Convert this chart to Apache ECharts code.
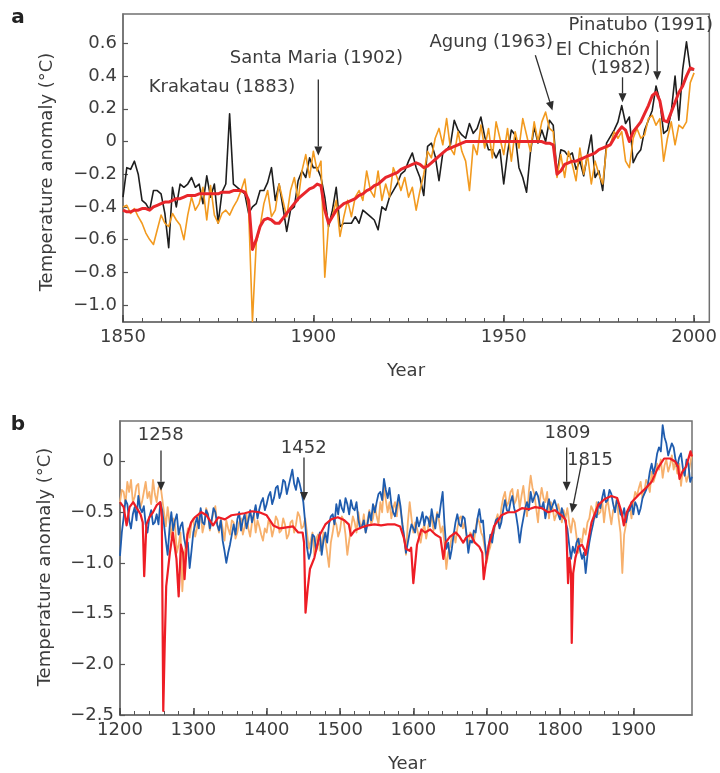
<!DOCTYPE html>
<html>
<head>
<meta charset="utf-8">
<script src="https://cdn.jsdelivr.net/npm/echarts@6/dist/echarts.min.js"></script>
<style>
  html, body { margin: 0; padding: 0; background: #fff; }
  #chart { width: 720px; height: 773px; }
</style>
</head>
<body>
<div id="chart"></div>
<script>
// ---------- Panel a: 1850–2000, annual anomalies (°C) ----------
const yearsA = [];
for (let y = 1850; y <= 2000; y++) yearsA.push(y);

const obsA = [
  -0.34, -0.16, -0.17, -0.12, -0.20, -0.36, -0.38, -0.42, -0.30, -0.30,
  -0.32, -0.44, -0.65, -0.28, -0.40, -0.26, -0.28, -0.26, -0.22, -0.28,
  -0.26, -0.38, -0.21, -0.34, -0.26, -0.50, -0.31, -0.26, 0.17, -0.26,
  -0.28, -0.30, -0.32, -0.44, -0.40, -0.38, -0.30, -0.30, -0.25, -0.16,
  -0.36, -0.26, -0.40, -0.55, -0.42, -0.40, -0.24, -0.18, -0.22, -0.10,
  -0.16, -0.16, -0.22, -0.34, -0.52, -0.42, -0.28, -0.52, -0.50, -0.50,
  -0.50, -0.46, -0.50, -0.42, -0.44, -0.46, -0.48, -0.54, -0.40, -0.42,
  -0.34, -0.30, -0.26, -0.20, -0.18, -0.12, -0.07, -0.16, -0.22, -0.33,
  -0.03, -0.01, -0.09, -0.24, -0.07, -0.05, -0.02, 0.13, 0.07, 0.04,
  0.02, 0.11, 0.05, 0.08, 0.15, 0.03, -0.05, -0.05, -0.10, -0.05,
  -0.26, -0.07, 0.07, 0.04, -0.16, -0.22, -0.31, -0.07, 0.09, -0.01,
  0.07, 0.00, 0.13, 0.10, -0.20, -0.05, -0.06, -0.09, -0.07, -0.17,
  -0.12, -0.21, -0.08, 0.04, -0.22, -0.18, -0.30, -0.01, 0.03, 0.07,
  0.12, 0.22, 0.11, 0.15, -0.13, -0.08, -0.05, 0.07, 0.13, 0.19,
  0.34, 0.25, 0.05, 0.07, 0.18, 0.40, 0.13, 0.44, 0.61, 0.44,
  0.44
];

const simA = [
  -0.40, -0.39, -0.44, -0.41, -0.46, -0.50, -0.56, -0.60, -0.63, -0.54,
  -0.45, -0.50, -0.52, -0.44, -0.48, -0.51, -0.60, -0.45, -0.34, -0.42,
  -0.38, -0.28, -0.48, -0.27, -0.45, -0.50, -0.44, -0.42, -0.45, -0.40,
  -0.36, -0.30, -0.23, -0.42, -1.10, -0.62, -0.52, -0.38, -0.30, -0.46,
  -0.42, -0.26, -0.36, -0.46, -0.30, -0.22, -0.36, -0.18, -0.08, -0.22,
  -0.06, -0.18, -0.12, -0.83, -0.50, -0.46, -0.36, -0.58, -0.46, -0.36,
  -0.46, -0.34, -0.30, -0.36, -0.18, -0.30, -0.34, -0.18, -0.36, -0.26,
  -0.34, -0.16, -0.22, -0.30, -0.22, -0.34, -0.28, -0.42, -0.30, -0.20,
  -0.06, -0.10, 0.02, 0.08, -0.02, 0.14, -0.04, -0.08, 0.06, -0.06,
  -0.12, -0.30, -0.02, -0.08, 0.10, -0.04, 0.08, -0.10, 0.12, 0.02,
  -0.08, 0.08, -0.12, 0.06, -0.04, 0.14, 0.04, -0.06, 0.12, 0.00,
  0.12, 0.18, 0.08, 0.06, -0.22, -0.08, -0.22, -0.06, -0.14, -0.24,
  -0.04, -0.20, -0.08, -0.26, -0.12, -0.20, -0.26, -0.04, -0.02, 0.06,
  0.02, 0.06, -0.12, -0.16, 0.02, 0.08, 0.02, 0.04, 0.14, 0.16,
  0.10, 0.14, -0.12, 0.02, 0.12, -0.02, 0.10, 0.08, 0.12, 0.36,
  0.42
];

const meanA = [
  -0.42, -0.43, -0.43, -0.42, -0.42, -0.41, -0.41, -0.42, -0.40, -0.39,
  -0.38, -0.37, -0.37, -0.36, -0.35, -0.35, -0.34, -0.33, -0.33, -0.33,
  -0.32, -0.32, -0.32, -0.32, -0.32, -0.32, -0.31, -0.31, -0.31, -0.30,
  -0.30, -0.30, -0.31, -0.36, -0.66, -0.60, -0.52, -0.48, -0.47, -0.48,
  -0.50, -0.50, -0.47, -0.44, -0.41, -0.38, -0.35, -0.33, -0.31, -0.29,
  -0.28, -0.26, -0.27, -0.42, -0.50, -0.46, -0.42, -0.40, -0.38, -0.37,
  -0.36, -0.35, -0.33, -0.32, -0.30, -0.29, -0.27, -0.26, -0.24, -0.22,
  -0.21, -0.20, -0.19, -0.17, -0.16, -0.15, -0.14, -0.13, -0.14, -0.16,
  -0.15, -0.13, -0.11, -0.09, -0.07, -0.05, -0.04, -0.03, -0.02, -0.01,
  0.00, 0.00, 0.00, 0.00, 0.00, 0.00, 0.00, 0.00, 0.00, 0.00,
  0.00, 0.00, 0.00, 0.00, 0.00, 0.00, 0.00, 0.00, 0.00, 0.00,
  0.00, -0.01, -0.01, -0.02, -0.20, -0.18, -0.14, -0.13, -0.12, -0.12,
  -0.11, -0.10, -0.09, -0.08, -0.07, -0.05, -0.04, -0.03, -0.02, 0.02,
  0.06, 0.09, 0.07, 0.00, 0.06, 0.09, 0.12, 0.17, 0.22, 0.28,
  0.30, 0.25, 0.13, 0.12, 0.18, 0.24, 0.30, 0.34, 0.40, 0.45,
  0.44
];

const yTicksA = [-1.0, -0.8, -0.6, -0.4, -0.2, 0, 0.2, 0.4, 0.6];
const xLabelsA = [1850, 1900, 1950, 2000];

// ---------- Panel b: 1200–1980, sampled every 2.5 years ----------
const yearsB = [];
for (let i = 0; i <= 312; i++) yearsB.push(1200 + i * 2.5);

// each row covers 25 years (10 samples)
const reconBlue = [
  -0.93, -0.70, -0.55, -0.38, -0.42, -0.58, -0.66, -0.52, -0.45, -0.58, // 1200
  -0.34, -0.46, -0.50, -0.44, -0.62, -0.70, -0.55, -0.48, -0.62, -0.60, // 1225
  -0.52, -0.62, -0.40, -0.48, -0.62, -0.78, -0.92, -0.66, -0.50, -0.68, // 1250
  -0.58, -0.52, -0.72, -0.64, -0.60, -0.76, -0.85, -0.80, -1.05, -0.88, // 1275
  -0.70, -0.62, -0.55, -0.66, -0.46, -0.60, -0.62, -0.48, -0.52, -0.66, // 1300
  -0.58, -0.46, -0.50, -0.62, -0.68, -0.58, -0.78, -0.88, -1.00, -0.90, // 1325
  -0.82, -0.72, -0.62, -0.72, -0.57, -0.50, -0.68, -0.58, -0.52, -0.66, // 1350
  -0.58, -0.48, -0.60, -0.52, -0.43, -0.56, -0.47, -0.40, -0.36, -0.48, // 1375
  -0.42, -0.34, -0.30, -0.42, -0.36, -0.26, -0.24, -0.36, -0.30, -0.18, // 1400
  -0.20, -0.32, -0.24, -0.16, -0.08, -0.22, -0.28, -0.16, -0.22, -0.30, // 1425
  -0.40, -0.60, -0.85, -0.96, -0.90, -0.72, -0.74, -0.88, -0.80, -0.70, // 1450
  -0.92, -0.78, -0.70, -0.80, -0.62, -0.54, -0.52, -0.62, -0.42, -0.52, // 1475
  -0.38, -0.46, -0.50, -0.36, -0.42, -0.52, -0.38, -0.46, -0.48, -0.40, // 1500
  -0.57, -0.66, -0.64, -0.58, -0.70, -0.62, -0.50, -0.58, -0.42, -0.50, // 1525
  -0.40, -0.32, -0.30, -0.38, -0.17, -0.28, -0.36, -0.26, -0.42, -0.50, // 1550
  -0.54, -0.44, -0.33, -0.44, -0.62, -0.74, -0.90, -0.80, -0.70, -0.62, // 1575
  -0.62, -0.70, -0.55, -0.64, -0.58, -0.50, -0.63, -0.54, -0.56, -0.64, // 1600
  -0.47, -0.58, -0.66, -0.52, -0.55, -0.42, -0.30, -0.62, -0.86, -0.80, // 1625
  -0.96, -0.86, -0.72, -0.60, -0.52, -0.62, -0.64, -0.54, -0.56, -0.72, // 1650
  -0.90, -0.78, -0.80, -0.68, -0.70, -0.56, -0.47, -0.60, -0.58, -0.80, // 1675
  -0.96, -0.84, -0.72, -0.80, -0.66, -0.58, -0.56, -0.66, -0.60, -0.48, // 1700
  -0.38, -0.48, -0.50, -0.40, -0.34, -0.46, -0.52, -0.64, -0.80, -0.66, // 1725
  -0.56, -0.46, -0.40, -0.48, -0.30, -0.40, -0.40, -0.30, -0.34, -0.44, // 1750
  -0.46, -0.40, -0.56, -0.46, -0.37, -0.48, -0.48, -0.38, -0.44, -0.52, // 1775
  -0.57, -0.46, -0.53, -0.60, -0.66, -0.82, -0.96, -0.84, -0.90, -0.80, // 1800
  -0.76, -0.88, -0.96, -0.90, -1.10, -0.92, -0.80, -0.70, -0.62, -0.52, // 1825
  -0.55, -0.40, -0.46, -0.36, -0.28, -0.40, -0.38, -0.28, -0.32, -0.42, // 1850
  -0.50, -0.38, -0.42, -0.52, -0.54, -0.46, -0.60, -0.50, -0.48, -0.40, // 1875
  -0.52, -0.40, -0.44, -0.52, -0.46, -0.36, -0.32, -0.28, -0.22, -0.10, // 1900
  -0.02, -0.12, -0.04, 0.08, 0.14, 0.10, 0.36, 0.24, 0.18, 0.06,       // 1925
  0.06, 0.18, 0.14, 0.02, -0.05, 0.04, 0.08, -0.06, -0.14, 0.02,       // 1950
  -0.02, -0.20, -0.15                                                   // 1975
];

const reconOrange = [
  -0.40, -0.28, -0.30, -0.42, -0.20, -0.30, -0.18, -0.40, -0.35, -0.24, // 1200
  -0.22, -0.46, -0.40, -0.30, -0.20, -0.36, -0.30, -0.42, -0.18, -0.32, // 1225
  -0.40, -0.26, -0.22, -0.36, -0.50, -0.64, -0.45, -0.60, -0.75, -0.56, // 1250
  -0.62, -0.90, -0.82, -0.70, -1.28, -0.96, -0.80, -0.66, -0.75, -0.60, // 1275
  -0.56, -0.74, -0.66, -0.52, -0.48, -0.70, -0.62, -0.46, -0.52, -0.68, // 1300
  -0.58, -0.50, -0.44, -0.62, -0.70, -0.56, -0.66, -0.78, -0.58, -0.66, // 1325
  -0.72, -0.58, -0.60, -0.76, -0.70, -0.60, -0.56, -0.72, -0.64, -0.52, // 1350
  -0.66, -0.74, -0.60, -0.52, -0.70, -0.58, -0.64, -0.72, -0.78, -0.66, // 1375
  -0.70, -0.58, -0.62, -0.74, -0.66, -0.54, -0.58, -0.70, -0.68, -0.56, // 1400
  -0.62, -0.76, -0.72, -0.60, -0.58, -0.70, -0.62, -0.50, -0.54, -0.66, // 1425
  -0.64, -0.56, -0.70, -0.86, -0.78, -0.70, -0.92, -0.76, -0.72, -0.88, // 1450
  -0.84, -0.70, -0.78, -0.90, -1.04, -0.80, -0.70, -0.58, -0.62, -0.74, // 1475
  -0.68, -0.54, -0.58, -0.72, -0.92, -0.78, -0.66, -0.54, -0.60, -0.70, // 1500
  -0.50, -0.62, -0.64, -0.52, -0.70, -0.58, -0.48, -0.62, -0.56, -0.44, // 1525
  -0.54, -0.62, -0.40, -0.50, -0.24, -0.38, -0.50, -0.40, -0.56, -0.46, // 1550
  -0.40, -0.54, -0.36, -0.48, -0.60, -0.76, -0.92, -0.60, -0.40, -0.56, // 1575
  -0.70, -0.60, -0.66, -0.74, -0.80, -0.68, -0.62, -0.76, -0.66, -0.54, // 1600
  -0.56, -0.68, -0.60, -0.50, -0.58, -0.70, -0.64, -0.82, -1.06, -0.90, // 1625
  -0.84, -0.74, -0.70, -0.80, -0.66, -0.56, -0.54, -0.66, -0.60, -0.72, // 1650
  -0.84, -0.70, -0.72, -0.80, -0.66, -0.56, -0.60, -0.70, -0.74, -0.86, // 1675
  -1.00, -0.90, -0.84, -0.74, -0.70, -0.58, -0.52, -0.64, -0.46, -0.36, // 1700
  -0.30, -0.44, -0.40, -0.30, -0.27, -0.42, -0.38, -0.28, -0.46, -0.34, // 1725
  -0.24, -0.40, -0.54, -0.30, -0.14, -0.26, -0.32, -0.46, -0.60, -0.38, // 1750
  -0.26, -0.36, -0.40, -0.30, -0.56, -0.40, -0.46, -0.58, -0.52, -0.42, // 1775
  -0.50, -0.60, -0.48, -0.56, -0.46, -0.60, -0.70, -0.56, -0.60, -0.74, // 1800
  -0.90, -0.76, -0.80, -0.66, -0.72, -0.60, -0.56, -0.44, -0.48, -0.56, // 1825
  -0.40, -0.52, -0.50, -0.38, -0.60, -0.44, -0.38, -0.50, -0.62, -0.48, // 1850
  -0.46, -0.36, -0.56, -0.70, -1.10, -0.72, -0.62, -0.50, -0.44, -0.56, // 1875
  -0.40, -0.30, -0.34, -0.26, -0.20, -0.36, -0.30, -0.18, -0.22, -0.30, // 1900
  -0.10, -0.20, -0.14, -0.02, -0.08, 0.02, -0.16, -0.04, 0.02, -0.10,  // 1925
  -0.04, 0.06, -0.08, 0.00, -0.12, -0.02, -0.24, -0.08, -0.10, -0.20,  // 1950
  -0.14, -0.02, 0.08                                                    // 1975
];

// simulated response with volcanic cooling events
const simB = [
  [1200, -0.40], [1205, -0.45], [1209, -0.63], [1213, -0.45], [1218, -0.40],
  [1222, -0.45], [1228, -0.52], [1231, -0.60], [1233, -1.13], [1236, -0.62],
  [1240, -0.55], [1245, -0.50], [1250, -0.43], [1255, -0.40], [1257, -0.55],
  [1259, -2.46], [1261, -1.80], [1263, -1.23], [1268, -0.90], [1272, -0.70],
  [1277, -0.96], [1280, -1.33], [1283, -0.82], [1286, -0.90], [1288, -1.16],
  [1292, -0.72], [1297, -0.60], [1302, -0.55], [1311, -0.50], [1318, -0.53],
  [1327, -0.63], [1334, -0.55], [1343, -0.57], [1352, -0.53], [1361, -0.52],
  [1370, -0.51], [1380, -0.49], [1390, -0.50], [1400, -0.53], [1409, -0.63],
  [1418, -0.66], [1427, -0.65], [1436, -0.64], [1443, -0.70], [1449, -0.70],
  [1451, -0.80], [1453, -1.49], [1456, -1.25], [1459, -1.06], [1465, -0.95],
  [1472, -0.73], [1480, -0.62], [1488, -0.57], [1497, -0.55], [1506, -0.58],
  [1512, -0.62], [1515, -0.73], [1520, -0.68], [1529, -0.65], [1538, -0.63],
  [1547, -0.62], [1556, -0.63], [1565, -0.62], [1575, -0.62], [1582, -0.64],
  [1587, -0.75], [1590, -0.86], [1595, -0.88], [1597, -0.85], [1600, -1.20],
  [1602, -1.05], [1605, -0.82], [1611, -0.67], [1616, -0.70], [1623, -0.67],
  [1630, -0.72], [1637, -0.75], [1641, -0.96], [1644, -0.80], [1650, -0.74],
  [1658, -0.70], [1663, -0.74], [1668, -0.80], [1672, -0.75], [1678, -0.72],
  [1684, -0.80], [1690, -0.84], [1694, -0.90], [1696, -1.16], [1699, -1.00],
  [1703, -0.82], [1710, -0.64], [1720, -0.53], [1729, -0.50], [1738, -0.50],
  [1748, -0.46], [1757, -0.47], [1766, -0.45], [1775, -0.46], [1784, -0.50],
  [1793, -0.48], [1800, -0.52], [1805, -0.55], [1808, -0.58], [1809, -0.75],
  [1811, -1.20], [1813, -0.95], [1815, -1.10], [1816, -1.79], [1818, -1.10],
  [1821, -0.95], [1825, -0.84], [1830, -0.82], [1834, -0.88], [1835, -0.92],
  [1838, -0.80], [1843, -0.60], [1852, -0.43], [1861, -0.37], [1870, -0.34],
  [1878, -0.36], [1884, -0.50], [1887, -0.63], [1891, -0.50], [1898, -0.40],
  [1907, -0.33], [1916, -0.27], [1925, -0.20], [1933, -0.07], [1942, 0.03],
  [1950, 0.03], [1957, 0.00], [1961, -0.05], [1963, -0.17], [1967, -0.10],
  [1972, -0.05], [1978, 0.10], [1980, 0.05]
];

const yTicksB = [-2.5, -2.0, -1.5, -1.0, -0.5, 0];
const xLabelsB = [1200, 1300, 1400, 1500, 1600, 1700, 1800, 1900];

// Eruption annotations: text anchor and arrow (start → tip), in data units
const notesA = [
  { text: 'Krakatau (1883)', at: [1876.0, 0.332] },
  { text: 'Santa Maria (1902)', at: [1900.8, 0.51], from: [1901.3, 0.38], to: [1901.3, -0.085] },
  { text: 'Agung (1963)', at: [1946.7, 0.607], from: [1958.3, 0.528], to: [1962.8, 0.19] },
  { text: 'El Chichón', at: [1976.1, 0.558] },
  { text: '(1982)', at: [1980.7, 0.448], from: [1981.2, 0.393], to: [1981.2, 0.24] },
  { text: 'Pinatubo (1991)', at: [1986.0, 0.711], from: [1990.3, 0.62], to: [1990.3, 0.375] }
];
const notesB = [
  { text: '1258', at: [1255.6, 0.258], from: [1255.9, 0.109], to: [1255.9, -0.288] },
  { text: '1452', at: [1450.6, 0.129], from: [1450.9, 0.04], to: [1450.9, -0.388] },
  { text: '1809', at: [1810.2, 0.278], from: [1809.1, 0.139], to: [1809.1, -0.288] },
  { text: '1815', at: [1840.9, 0.01], from: [1829.6, -0.007], to: [1816.0, -0.504] }
];

// ---------- helpers ----------
const FONT = '"DejaVu Sans", sans-serif';
const TXT = '#3c3c3c';
const AXIS = '#707070';

function range(a, b, step) {
  const out = [];
  for (let v = a; v <= b + 1e-9; v += step) out.push(+v.toFixed(6));
  return out;
}
function fmtNum(v) {
  if (Math.abs(v) < 1e-9) return '0';
  return v.toFixed(1).replace('-', '\u2212');
}
function pairs(xs, ys) { return xs.map((x, i) => [x, ys[i]]); }

function xAxisDef(grid, min, max, labels, minorStep) {
  return [{
    type: 'value', gridIndex: grid, min: min, max: max,
    axisLine: { show: true, onZero: false, lineStyle: { color: AXIS, width: 1.5 } },
    axisTick: { show: true, inside: true, length: 4, customValues: range(min, labels[labels.length - 1], minorStep),
                lineStyle: { color: '#555', width: 1 } },
    axisLabel: { customValues: labels, formatter: v => String(v), fontSize: 18, fontFamily: FONT, color: TXT, margin: 6 },
    splitLine: { show: false }
  }, {
    type: 'value', gridIndex: grid, min: min, max: max, position: 'bottom',
    axisLine: { show: false, onZero: false },
    axisTick: { show: true, inside: true, length: 7, customValues: labels,
                lineStyle: { color: '#444', width: 1.5 } },
    axisLabel: { show: false },
    splitLine: { show: false }
  }];
}
function yAxisDef(grid, min, max, ticks) {
  return {
    type: 'value', gridIndex: grid, min: min, max: max,
    axisLine: { show: true, onZero: false, lineStyle: { color: AXIS, width: 1.5 } },
    axisTick: { show: true, inside: true, length: 5, customValues: ticks,
                lineStyle: { color: '#555', width: 1.2 } },
    axisLabel: { customValues: ticks, formatter: fmtNum, fontSize: 18, fontFamily: FONT, color: TXT, margin: 6 },
    splitLine: { show: false }
  };
}
function lineSeries(xi, yi, data, color, width, z) {
  return {
    type: 'line', xAxisIndex: xi, yAxisIndex: yi, data: data,
    showSymbol: false, symbol: 'none', smooth: false, z: z,
    lineStyle: { color: color, width: width, join: 'round' },
    silent: true
  };
}

const chart = echarts.init(document.getElementById('chart'), null, { renderer: 'canvas' });

const xa = xAxisDef(0, 1850, 2004, xLabelsA, 5);
const xb = xAxisDef(1, 1200, 1980, xLabelsB, 20);

chart.setOption({
  animation: false,
  backgroundColor: '#fff',
  grid: [
    { left: 123, top: 14, width: 587, height: 308, show: true, borderColor: AXIS, borderWidth: 1.5, containLabel: false },
    { left: 120, top: 421, width: 572, height: 294, show: true, borderColor: AXIS, borderWidth: 1.5, containLabel: false }
  ],
  xAxis: [xa[0], xa[1], xb[0], xb[1]],
  yAxis: [yAxisDef(0, -1.104, 0.78, yTicksA), yAxisDef(1, -2.5, 0.4, yTicksB)],
  series: [
    lineSeries(0, 0, pairs(yearsA, obsA), '#1e1e1e', 1.6, 2),
    lineSeries(0, 0, pairs(yearsA, simA), '#f29a1f', 1.6, 3),
    lineSeries(0, 0, pairs(yearsA, meanA), '#e8262b', 3, 4),
    lineSeries(2, 1, pairs(yearsB, reconOrange), '#f7b06c', 1.8, 2),
    lineSeries(2, 1, pairs(yearsB, reconBlue), '#1f5cae', 1.8, 3),
    lineSeries(2, 1, simB, '#ee1d25', 2.2, 4)
  ]
});

// ---------- annotations, placed through the axis scales ----------
function annotate(gridIndex, notes) {
  const els = [];
  notes.forEach(n => {
    const p = chart.convertToPixel({ gridIndex: gridIndex }, n.at);
    els.push({
      type: 'text', x: p[0], y: p[1], z: 100,
      style: { text: n.text, fontSize: 18, fontFamily: FONT, fill: TXT, align: 'center', verticalAlign: 'middle' }
    });
    if (n.from) {
      const a = chart.convertToPixel({ gridIndex: gridIndex }, n.from);
      const b = chart.convertToPixel({ gridIndex: gridIndex }, n.to);
      const dx = b[0] - a[0], dy = b[1] - a[1];
      const len = Math.sqrt(dx * dx + dy * dy);
      const ux = dx / len, uy = dy / len;
      const hl = 9, hw = 4;
      const bx = b[0] - ux * hl, by = b[1] - uy * hl;
      els.push({
        type: 'line', z: 100,
        shape: { x1: a[0], y1: a[1], x2: bx, y2: by },
        style: { stroke: '#2e2e2e', lineWidth: 1.3 }
      });
      els.push({
        type: 'polygon', z: 100,
        shape: { points: [[b[0], b[1]], [bx - uy * hw, by + ux * hw], [bx + uy * hw, by - ux * hw]] },
        style: { fill: '#2e2e2e' }
      });
    }
  });
  return els;
}

const graphics = [].concat(annotate(0, notesA), annotate(1, notesB));

// panel letters and axis titles
graphics.push(
  { type: 'text', x: 18, y: 18, style: { text: 'a', fontSize: 20, fontWeight: 'bold', fontFamily: FONT, fill: '#222', align: 'center', verticalAlign: 'middle' } },
  { type: 'text', x: 18, y: 425, style: { text: 'b', fontSize: 20, fontWeight: 'bold', fontFamily: FONT, fill: '#222', align: 'center', verticalAlign: 'middle' } },
  { type: 'text', x: 47, y: 172, rotation: Math.PI / 2, style: { text: 'Temperature anomaly (°C)', fontSize: 18, fontFamily: FONT, fill: TXT, align: 'center', verticalAlign: 'middle' } },
  { type: 'text', x: 45, y: 567, rotation: Math.PI / 2, style: { text: 'Temperature anomaly (°C)', fontSize: 18, fontFamily: FONT, fill: TXT, align: 'center', verticalAlign: 'middle' } },
  { type: 'text', x: 406, y: 371, style: { text: 'Year', fontSize: 18, fontFamily: FONT, fill: TXT, align: 'center', verticalAlign: 'middle' } },
  { type: 'text', x: 407, y: 764, style: { text: 'Year', fontSize: 18, fontFamily: FONT, fill: TXT, align: 'center', verticalAlign: 'middle' } }
);

chart.setOption({ graphic: graphics });
</script>
</body>
</html>
